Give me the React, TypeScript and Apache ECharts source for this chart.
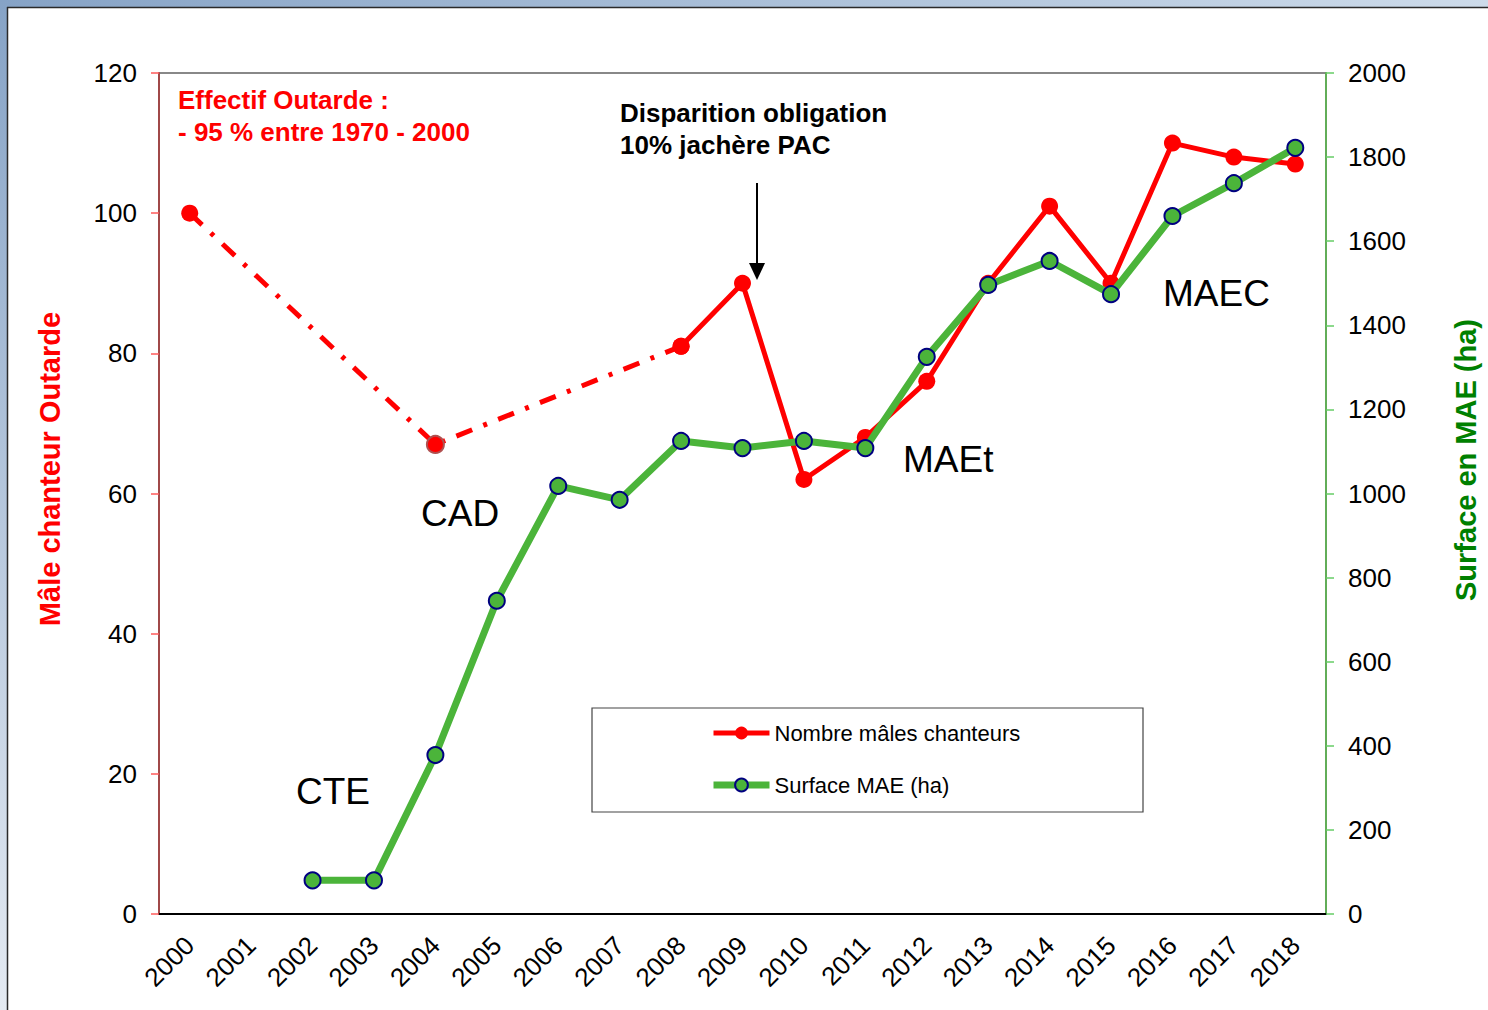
import React, { useEffect, useRef } from "react";
import * as echarts from "echarts";

const FONT = '"Liberation Sans", Arial, Helvetica, sans-serif';

const years = [
  "2000", "2001", "2002", "2003", "2004", "2005", "2006", "2007", "2008", "2009",
  "2010", "2011", "2012", "2013", "2014", "2015", "2016", "2017", "2018",
];

// Estimated trend (dash-dot part), 2000 -> 2004 -> 2008
const malesEstimated: (number | null)[] = [
  100, null, null, null, 67, null, null, null, 81, null,
  null, null, null, null, null, null, null, null, null,
];

// Counted singing males, 2008 -> 2018
const malesCounted: (number | null)[] = [
  null, null, null, null, null, null, null, null, 81, 90,
  62, 68, 76, 90, 101, 90, 110, 108, 107,
];

// Surface under agri-environmental measures (ha)
const surfaceMAE: (number | null)[] = [
  null, null, 80, 80, 378, 745, 1018, 985, 1125, 1108,
  1125, 1108, 1325, 1496, 1553, 1474, 1660, 1738, 1822,
];

const leftAxisRange = [0, 120];
const leftAxisStep = 20;
const rightAxisRange = [0, 2000];
const rightAxisStep = 200;

const RED = "#ff0000";
const GREEN = "#4bb43a";
const NAVY = "#000080";

export default function App() {
  const ref = useRef<HTMLDivElement>(null);

  useEffect(() => {
    document.body.style.margin = "0";
    const chart = echarts.init(ref.current!, null, { renderer: "svg" });

    const option: any = {
      animation: false,
      backgroundColor: "#ffffff",
      textStyle: { fontFamily: FONT },
      grid: {
        left: 159,
        right: 162,
        top: 73,
        bottom: 96,
        show: true,
        borderColor: "#888888",
        borderWidth: 2,
        backgroundColor: "transparent",
      },
      legend: {
        data: [
          { name: "Nombre mâles chanteurs", lineStyle: { width: 5 } },
          { name: "Surface MAE (ha)", lineStyle: { width: 7 } },
        ],
        orient: "vertical",
        left: 710,
        top: 722,
        itemWidth: 56,
        itemHeight: 16,
        itemGap: 30,
        padding: 0,
        selectedMode: false,
        textStyle: { fontSize: 22, color: "#000", fontFamily: FONT },
      },
      xAxis: {
        type: "category",
        data: years,
        boundaryGap: true,
        axisLine: { lineStyle: { color: "#000", width: 2 } },
        axisTick: { interval: 0, length: 8, lineStyle: { color: "#000", width: 1.5 } },
        axisLabel: {
          interval: 0,
          rotate: 45,
          margin: 27,
          fontSize: 26,
          color: "#000",
          fontFamily: FONT,
        },
        splitLine: { show: false },
      },
      yAxis: [
        {
          type: "value",
          position: "left",
          min: leftAxisRange[0],
          max: leftAxisRange[1],
          interval: leftAxisStep,
          axisLine: { show: true, lineStyle: { color: "#a04848", width: 2 } },
          axisTick: { show: true, length: 8, lineStyle: { color: "#ff5a5a", width: 1.5 } },
          axisLabel: {
            fontSize: 26,
            color: "#000",
            margin: 22,
            fontFamily: FONT,
            formatter: (v: number) => String(v),
          },
          splitLine: { show: false },
        },
        {
          type: "value",
          position: "right",
          min: rightAxisRange[0],
          max: rightAxisRange[1],
          interval: rightAxisStep,
          axisLine: { show: true, lineStyle: { color: "#62ad58", width: 2 } },
          axisTick: { show: true, length: 8, lineStyle: { color: "#66cc66", width: 1.5 } },
          axisLabel: {
            fontSize: 26,
            color: "#000",
            margin: 22,
            fontFamily: FONT,
            formatter: (v: number) => String(v),
          },
          splitLine: { show: false },
        },
      ],
      series: [
        {
          name: "Nombre mâles chanteurs",
          type: "line",
          yAxisIndex: 0,
          data: malesCounted,
          symbol: "circle",
          symbolSize: 17,
          lineStyle: { color: RED, width: 5 },
          itemStyle: { color: RED },
          z: 2,
        },
        {
          name: "Nombre mâles chanteurs (estimation)",
          type: "line",
          yAxisIndex: 0,
          data: malesEstimated.map((v, i) =>
            v === null
              ? null
              : i === 4
              ? { value: v, itemStyle: { color: RED, borderColor: "#b05050", borderWidth: 2 } }
              : v
          ),
          connectNulls: true,
          symbol: "circle",
          symbolSize: 17,
          lineStyle: { color: RED, width: 5, type: [17, 12, 4, 12], cap: "butt" },
          itemStyle: { color: RED },
          z: 2,
        },
        {
          name: "Surface MAE (ha)",
          type: "line",
          yAxisIndex: 1,
          data: surfaceMAE,
          symbol: "circle",
          symbolSize: 16,
          lineStyle: { color: GREEN, width: 7 },
          itemStyle: { color: GREEN, borderColor: NAVY, borderWidth: 2 },
          z: 3,
        },
      ],
      graphic: [
        // window frame
        {
          type: "rect",
          silent: true,
          shape: { x: 0, y: 0, width: 1488, height: 7 },
          style: {
            fill: {
              type: "linear", x: 0, y: 0, x2: 1, y2: 0,
              colorStops: [
                { offset: 0, color: "#86a3c6" },
                { offset: 1, color: "#cddbea" },
              ],
            },
          },
        },
        {
          type: "rect",
          silent: true,
          shape: { x: 0, y: 0, width: 7, height: 1010 },
          style: {
            fill: {
              type: "linear", x: 0, y: 0, x2: 0, y2: 1,
              colorStops: [
                { offset: 0, color: "#86a3c6" },
                { offset: 1, color: "#e4eaf2" },
              ],
            },
          },
        },
        {
          type: "line",
          silent: true,
          shape: { x1: 7, y1: 7.5, x2: 1488, y2: 7.5 },
          style: { stroke: "#2a2a2a", lineWidth: 1.5 },
        },
        {
          type: "line",
          silent: true,
          shape: { x1: 7.5, y1: 7, x2: 7.5, y2: 1010 },
          style: { stroke: "#2a2a2a", lineWidth: 1.5 },
        },
        // legend frame
        {
          type: "rect",
          silent: true,
          shape: { x: 592, y: 708, width: 551, height: 104 },
          style: { fill: "transparent", stroke: "#444444", lineWidth: 1.2 },
        },
        // annotations
        {
          type: "text",
          x: 178,
          y: 100,
          style: {
            text: "Effectif Outarde :",
            fill: RED,
            fontSize: 26,
            fontWeight: "bold",
            fontFamily: FONT,
            align: "left",
            verticalAlign: "middle",
          },
        },
        {
          type: "text",
          x: 178,
          y: 132,
          style: {
            text: "- 95 % entre 1970 - 2000",
            fill: RED,
            fontSize: 26,
            fontWeight: "bold",
            fontFamily: FONT,
            align: "left",
            verticalAlign: "middle",
          },
        },
        {
          type: "text",
          x: 620,
          y: 113,
          style: {
            text: "Disparition obligation",
            fill: "#000",
            fontSize: 26,
            fontWeight: "bold",
            fontFamily: FONT,
            align: "left",
            verticalAlign: "middle",
          },
        },
        {
          type: "text",
          x: 620,
          y: 145,
          style: {
            text: "10% jachère PAC",
            fill: "#000",
            fontSize: 26,
            fontWeight: "bold",
            fontFamily: FONT,
            align: "left",
            verticalAlign: "middle",
          },
        },
        {
          type: "line",
          silent: true,
          shape: { x1: 757, y1: 183, x2: 757, y2: 266 },
          style: { stroke: "#000", lineWidth: 2 },
        },
        {
          type: "polygon",
          silent: true,
          shape: { points: [[749, 263], [765, 263], [757, 280]] },
          style: { fill: "#000" },
        },
        {
          type: "text",
          x: 421,
          y: 513,
          style: { text: "CAD", fill: "#000", fontSize: 37, fontFamily: FONT, align: "left", verticalAlign: "middle" },
        },
        {
          type: "text",
          x: 296,
          y: 791,
          style: { text: "CTE", fill: "#000", fontSize: 37, fontFamily: FONT, align: "left", verticalAlign: "middle" },
        },
        {
          type: "text",
          x: 903,
          y: 459,
          style: { text: "MAEt", fill: "#000", fontSize: 37, fontFamily: FONT, align: "left", verticalAlign: "middle" },
        },
        {
          type: "text",
          x: 1163,
          y: 293,
          style: { text: "MAEC", fill: "#000", fontSize: 37, fontFamily: FONT, align: "left", verticalAlign: "middle" },
        },
        // axis titles
        {
          type: "text",
          x: 50,
          y: 469,
          rotation: Math.PI / 2,
          style: {
            text: "Mâle chanteur Outarde",
            fill: RED,
            fontSize: 29,
            fontWeight: "bold",
            fontFamily: FONT,
            align: "center",
            verticalAlign: "middle",
          },
        },
        {
          type: "text",
          x: 1466,
          y: 460,
          rotation: Math.PI / 2,
          style: {
            text: "Surface en MAE (ha)",
            fill: "#008000",
            fontSize: 29,
            fontWeight: "bold",
            fontFamily: FONT,
            align: "center",
            verticalAlign: "middle",
          },
        },
      ],
    };

    chart.setOption(option);
    return () => chart.dispose();
  }, []);

  return (
    <div
      ref={ref}
      style={{ position: "fixed", left: 0, top: 0, width: 1488, height: 1010, background: "#fff" }}
    />
  );
}
